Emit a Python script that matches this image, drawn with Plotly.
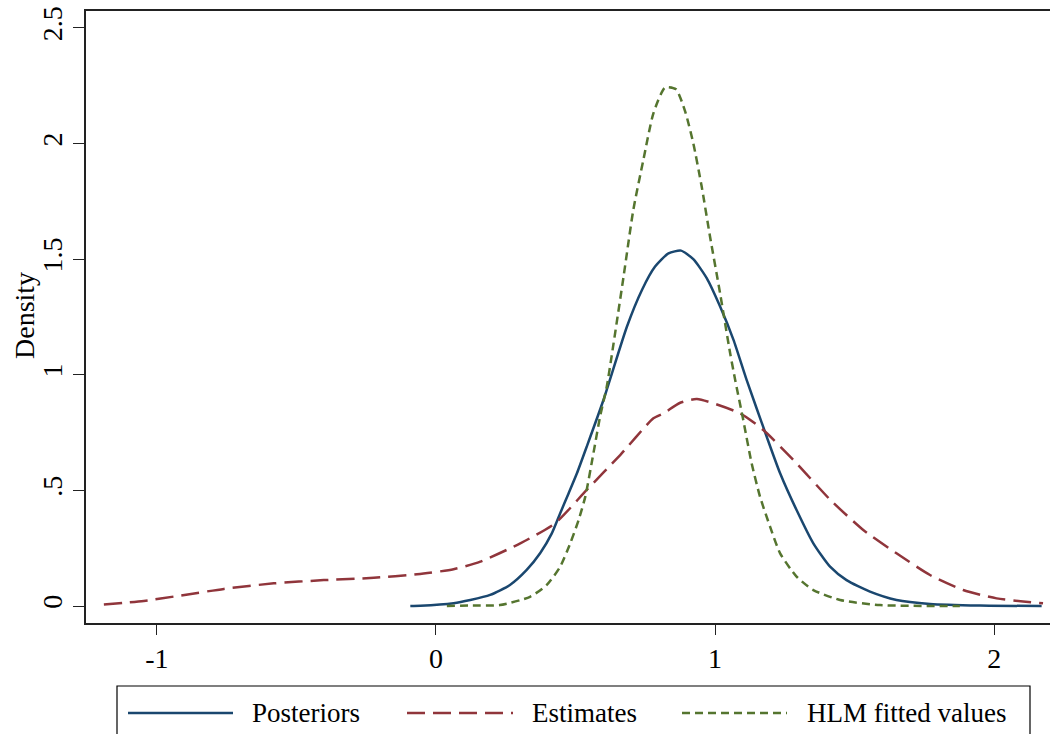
import plotly.graph_objects as go

# ---- data ----
post_x = [-0.092, -0.056, 0.063, 0.123, 0.194, 0.265, 0.325, 0.373, 0.415, 0.445, 0.475,
          0.505, 0.540, 0.600, 0.684, 0.738, 0.785, 0.833, 0.878, 0.922, 0.970, 1.018,
          1.066, 1.113, 1.185, 1.233, 1.292, 1.352, 1.412, 1.471, 1.555, 1.650, 1.770,
          1.949, 2.170]
post_y = [0.000, 0.001, 0.012, 0.026, 0.048, 0.091, 0.156, 0.228, 0.314, 0.401, 0.487,
          0.574, 0.689, 0.891, 1.208, 1.367, 1.468, 1.525, 1.537, 1.500, 1.418, 1.295,
          1.151, 0.978, 0.732, 0.574, 0.415, 0.271, 0.170, 0.112, 0.062, 0.026, 0.009,
          0.002, 0.000]

est_x = [-1.190, -1.047, -0.927, -0.760, -0.581, -0.402, -0.223, -0.068, 0.063, 0.159,
         0.302, 0.427, 0.540, 0.660, 0.779, 0.815, 0.875, 0.935, 1.090, 1.173, 1.292,
         1.412, 1.531, 1.650, 1.770, 1.889, 2.009, 2.175]
est_y = [0.007, 0.022, 0.043, 0.074, 0.098, 0.112, 0.122, 0.137, 0.159, 0.192,
         0.271, 0.358, 0.502, 0.653, 0.812, 0.833, 0.879, 0.895, 0.833, 0.761, 0.617,
         0.460, 0.329, 0.228, 0.134, 0.069, 0.033, 0.012]

hlm_x = [0.039, 0.123, 0.229, 0.337, 0.397, 0.445, 0.481, 0.511, 0.535, 0.564, 0.588,
         0.612, 0.630, 0.672, 0.707, 0.743, 0.779, 0.821, 0.860, 0.893, 0.922, 0.952,
         0.982, 1.018, 1.054, 1.072, 1.101, 1.131, 1.161, 1.197, 1.233, 1.292, 1.352,
         1.448, 1.591, 1.877]
hlm_y = [0.000, 0.002, 0.004, 0.040, 0.091, 0.170, 0.271, 0.372, 0.473, 0.660, 0.820,
         0.949, 1.086, 1.424, 1.713, 1.929, 2.131, 2.243, 2.235, 2.138, 2.001, 1.814,
         1.597, 1.352, 1.093, 0.978, 0.804, 0.617, 0.473, 0.343, 0.228, 0.127, 0.069,
         0.026, 0.004, 0.000]

x_ticks = [-1, 0, 1, 2]
x_ticktext = ["-1", "0", "1", "2"]
y_ticks = [0, 0.5, 1, 1.5, 2, 2.5]
y_ticktext = ["0", ".5", "1", "1.5", "2", "2.5"]

series_names = ["Posteriors", "Estimates", "HLM fitted values"]
colors = ["#1a476f", "#90353b", "#55752f"]
dashes = ["solid", "18px,8px", "8px,5px"]

FONT = "Liberation Serif, Times New Roman, serif"
TICK_SIZE = 28

fig = go.Figure()
for xs, ys, name, c, d in zip([post_x, est_x, hlm_x], [post_y, est_y, hlm_y],
                              series_names, colors, dashes):
    fig.add_trace(go.Scatter(x=xs, y=ys, mode="lines", name=name,
                             line=dict(color=c, width=2.5, dash=d,
                                       shape="spline", smoothing=0.6)))

W, H = 1050, 734
ml, mr, mt, mb = 86, 0, 11, 111
pw, ph = W - ml - mr, H - mt - mb

def px2paper_x(px):
    return (px - ml) / pw

def px2paper_y(py):
    return (H - mb - py) / ph

fig.update_layout(
    width=W, height=H,
    margin=dict(l=ml, r=mr, t=mt, b=mb, pad=0),
    paper_bgcolor="white", plot_bgcolor="white",
    showlegend=False,
    font=dict(family=FONT, size=TICK_SIZE, color="black"),
    xaxis=dict(range=[-1.254, 2.2], tickvals=x_ticks, ticktext=x_ticktext,
               showgrid=False, zeroline=False, showline=True, linecolor="#222222",
               linewidth=1.5, mirror=True, ticks="outside", ticklen=10, tickwidth=1.3,
               tickcolor="#222222", tickfont=dict(size=TICK_SIZE, family=FONT)),
    yaxis=dict(range=[-0.0735, 2.5735], tickvals=y_ticks, ticktext=y_ticktext,
               showgrid=False, zeroline=False, showline=True, linecolor="#222222",
               linewidth=1.5, mirror=False, ticks="outside", ticklen=11, tickwidth=1.3,
               tickcolor="#222222", tickangle=-90, ticklabelstandoff=0,
               tickfont=dict(size=TICK_SIZE, family=FONT)),
)

# y-axis title
fig.add_annotation(text="Density", xref="paper", yref="paper",
                   x=px2paper_x(24), y=px2paper_y(316), textangle=-90,
                   showarrow=False, font=dict(size=28, family=FONT, color="black"),
                   xanchor="center", yanchor="middle")

# legend box (drawn manually to match long line samples)
fig.add_shape(type="rect", xref="paper", yref="paper",
              x0=px2paper_x(117), x1=px2paper_x(1030),
              y0=px2paper_y(686), y1=px2paper_y(760),
              line=dict(color="black", width=1.2), fillcolor="white", layer="above")
leg_y = px2paper_y(713)
samples = [(128, 233, 250), (407, 513, 530), (682, 787, 805)]
for (s0, s1, tx), name, c, d in zip(samples, series_names, colors, dashes):
    fig.add_shape(type="line", xref="paper", yref="paper",
                  x0=px2paper_x(s0), x1=px2paper_x(s1), y0=leg_y, y1=leg_y,
                  line=dict(color=c, width=2.5, dash=d))
    fig.add_annotation(text=name, xref="paper", yref="paper",
                       x=px2paper_x(tx), y=leg_y, xanchor="left", yanchor="middle",
                       showarrow=False, font=dict(size=27, family=FONT, color="black"))

fig.write_html("out.html")
